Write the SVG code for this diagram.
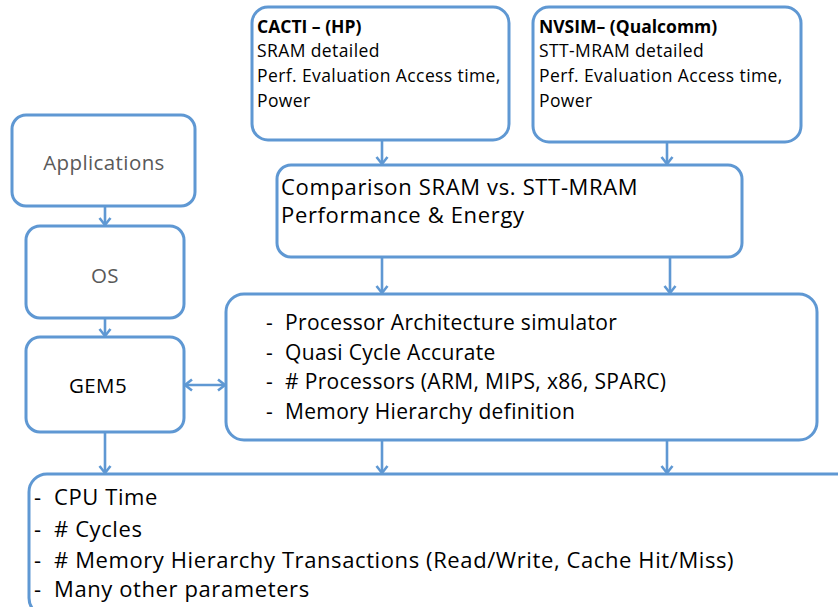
<svg xmlns="http://www.w3.org/2000/svg" width="838" height="607" viewBox="0 0 838 607">
<style>
.box{fill:#ffffff;stroke:#5f98d3;stroke-width:3}
.con{stroke:#5f98d3;stroke-width:2.6;fill:none}
.t{font-family:"Open Sans",Lato,"DejaVu Sans",sans-serif;fill:#000}
.s{font-size:17.5px;letter-spacing:0.4px}
.b{font-weight:bold;letter-spacing:0}
.g{fill:#595959}
.lt{font-size:20.5px;letter-spacing:0.4px}
.cmp{font-size:22px;letter-spacing:0.65px}
.mid{font-size:21px;letter-spacing:0.34px}
.out{font-size:22px;letter-spacing:0.6px}
</style>
<defs>
<marker id="ah" markerUnits="userSpaceOnUse" markerWidth="14" markerHeight="14" viewBox="0 0 14 14" refX="10" refY="7" orient="auto-start-reverse">
<path d="M3,1.5 L10,7 L3,12.5" fill="none" stroke="#5f98d3" stroke-width="2.6"/>
</marker>
</defs>
<rect width="838" height="607" fill="#ffffff"/>
<g id="connectors">
<line class="con" x1="105" y1="206" x2="105" y2="225" marker-end="url(#ah)"/>
<line class="con" x1="105" y1="318" x2="105" y2="336" marker-end="url(#ah)"/>
<line class="con" x1="185" y1="385" x2="225" y2="385" marker-start="url(#ah)" marker-end="url(#ah)"/>
<line class="con" x1="382" y1="140" x2="382" y2="164" marker-end="url(#ah)"/>
<line class="con" x1="667" y1="142" x2="667" y2="164" marker-end="url(#ah)"/>
<line class="con" x1="382" y1="257" x2="382" y2="293" marker-end="url(#ah)"/>
<line class="con" x1="670" y1="257" x2="670" y2="293" marker-end="url(#ah)"/>
<line class="con" x1="105" y1="432" x2="105" y2="473" marker-end="url(#ah)"/>
<line class="con" x1="382" y1="440" x2="382" y2="473" marker-end="url(#ah)"/>
<line class="con" x1="667" y1="440" x2="667" y2="473" marker-end="url(#ah)"/>
</g>
<g id="applications">
<rect class="box" x="12" y="115" width="183" height="91" rx="14"/>
<text class="t g lt" x="104" y="170" text-anchor="middle">Applications</text>
</g>
<g id="os">
<rect class="box" x="26" y="226" width="158" height="92" rx="14"/>
<text class="t g lt" x="105" y="283" text-anchor="middle">OS</text>
</g>
<g id="gem5">
<rect class="box" x="26" y="337" width="158" height="95" rx="14"/>
<text class="t lt" x="98" y="393" text-anchor="middle">GEM5</text>
</g>
<g id="cacti">
<rect class="box" x="252" y="7" width="257" height="133" rx="16"/>
<text class="t s b" x="257" y="33">CACTI – (HP)</text>
<text class="t s" x="257" y="57">SRAM detailed</text>
<text class="t s" x="257" y="82">Perf. Evaluation Access time,</text>
<text class="t s" x="257" y="107">Power</text>
</g>
<g id="nvsim">
<rect class="box" x="533" y="7" width="268" height="135" rx="16"/>
<text class="t s b" x="539" y="33">NVSIM– (Qualcomm)</text>
<text class="t s" x="539" y="57">STT-MRAM detailed</text>
<text class="t s" x="539" y="82">Perf. Evaluation Access time,</text>
<text class="t s" x="539" y="107">Power</text>
</g>
<g id="comparison">
<rect class="box" x="277" y="165" width="465" height="92" rx="14"/>
<text class="t cmp" x="281" y="195">Comparison SRAM vs. STT-MRAM</text>
<text class="t cmp" x="281" y="223">Performance &amp; Energy</text>
</g>
<g id="simulator">
<rect class="box" x="226" y="294" width="591" height="146" rx="18"/>
<g class="t mid">
<text x="266" y="330">-</text><text x="285" y="330">Processor Architecture simulator</text>
<text x="266" y="360">-</text><text x="285" y="360">Quasi Cycle Accurate</text>
<text x="266" y="389">-</text><text x="285" y="389"># Processors (ARM, MIPS, x86, SPARC)</text>
<text x="266" y="419">-</text><text x="285" y="419">Memory Hierarchy definition</text>
</g>
</g>
<g id="outputs">
<rect class="box" x="29" y="474" width="840" height="142" rx="18"/>
<g class="t out">
<text x="34" y="505">-</text><text x="54" y="505">CPU Time</text>
<text x="34" y="537">-</text><text x="54" y="537"># Cycles</text>
<text x="34" y="568">-</text><text x="54" y="568"># Memory Hierarchy Transactions (Read/Write, Cache Hit/Miss)</text>
<text x="34" y="597">-</text><text x="54" y="597">Many other parameters</text>
</g>
</g>
</svg>
